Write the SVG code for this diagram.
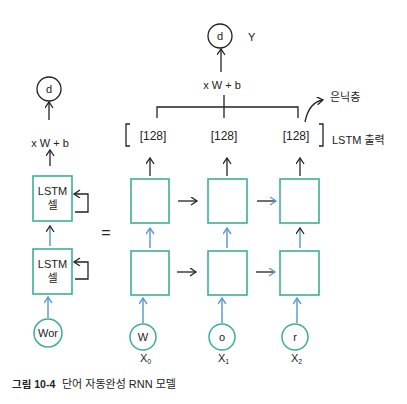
<svg xmlns="http://www.w3.org/2000/svg" width="407" height="404" viewBox="0 0 407 404">
<style>
text{font-family:"Liberation Sans","Noto Sans CJK KR",sans-serif;fill:#222}
.box{fill:#fff;stroke:#3dae96;stroke-width:1.6}
.circ{fill:#fff;stroke:#222;stroke-width:1.3}
.gcirc{fill:#fff;stroke:#3dae96;stroke-width:1.5}
.k{stroke:#222;stroke-width:1.3;fill:none}
.b{stroke:#5b9bd5;stroke-width:1.5;fill:none}
.t12{font-size:12px}
.t11{font-size:11px}
</style>
<defs>
<marker id="ak" markerWidth="10" markerHeight="10" refX="7" refY="4" orient="auto" markerUnits="userSpaceOnUse"><path d="M1,0 L7,4 L1,8" fill="none" stroke="#222" stroke-width="1.3"/></marker>
<marker id="ab" markerWidth="10" markerHeight="10" refX="7" refY="4" orient="auto" markerUnits="userSpaceOnUse"><path d="M1,0 L7,4 L1,8" fill="none" stroke="#5b9bd5" stroke-width="1.4"/></marker>
</defs>

<g id="out-top">
<circle class="circ" cx="220" cy="36" r="12"/>
<text x="220" y="40" text-anchor="middle" class="t11">d</text>
<text x="248" y="41" class="t11">Y</text>
</g>
<text id="xwb-top" x="222" y="89" text-anchor="middle" class="t11">x W + b</text>

<g id="out-left">
<circle class="circ" cx="49" cy="89" r="12"/>
<text x="49" y="93" text-anchor="middle" class="t11">d</text>
</g>
<text id="xwb-left" x="50" y="147" text-anchor="middle" class="t11">x W + b</text>

<g id="lstm-left-1">
<rect class="box" x="33" y="176" width="39" height="45"/>
<text x="52.5" y="195" text-anchor="middle" class="t11">LSTM</text>
<text x="52.5" y="209" text-anchor="middle" class="t11">셀</text>
</g>
<g id="lstm-left-2">
<rect class="box" x="33" y="249" width="39" height="45"/>
<text x="52.5" y="268" text-anchor="middle" class="t11">LSTM</text>
<text x="52.5" y="282" text-anchor="middle" class="t11">셀</text>
</g>
<g id="in-left">
<circle class="gcirc" cx="48" cy="333" r="14"/>
<text x="48" y="337" text-anchor="middle" class="t11">Wor</text>
</g>
<text id="eq" x="106" y="238" text-anchor="middle" font-size="16">=</text>

<g id="cell-1-1"><rect class="box" x="131" y="179" width="38" height="44"/></g>
<g id="cell-1-2"><rect class="box" x="208" y="179" width="39" height="44"/></g>
<g id="cell-1-3"><rect class="box" x="280" y="179" width="39" height="44"/></g>
<g id="cell-2-1"><rect class="box" x="131" y="251" width="38" height="44"/></g>
<g id="cell-2-2"><rect class="box" x="208" y="251" width="39" height="44"/></g>
<g id="cell-2-3"><rect class="box" x="280" y="251" width="39" height="44"/></g>

<g id="in-0"><circle class="gcirc" cx="143" cy="337" r="13"/><text x="143" y="341" text-anchor="middle" class="t11">W</text><text x="140" y="362" class="t11">X<tspan font-size="7" dy="2">0</tspan></text></g>
<g id="in-1"><circle class="gcirc" cx="222" cy="337" r="13"/><text x="222" y="341" text-anchor="middle" class="t11">o</text><text x="218" y="362" class="t11">X<tspan font-size="7" dy="2">1</tspan></text></g>
<g id="in-2"><circle class="gcirc" cx="295" cy="337" r="13"/><text x="295" y="341" text-anchor="middle" class="t11">r</text><text x="291" y="362" class="t11">X<tspan font-size="7" dy="2">2</tspan></text></g>

<g id="labels">
<text x="153" y="140" text-anchor="middle" class="t12">[128]</text>
<text x="224" y="140" text-anchor="middle" class="t12">[128]</text>
<text x="296" y="140" text-anchor="middle" class="t12">[128]</text>
<text x="332" y="144" class="t11">LSTM 출력</text>
<text x="330" y="101" class="t11">은닉층</text>
<text x="12" y="388" font-size="10.5" font-weight="bold">그림 10-4</text>
<text x="62" y="388" font-size="11">단어 자동완성 RNN 모델</text>
</g>

<g id="connectors">
<line class="k" x1="221" y1="72" x2="221" y2="49" marker-end="url(#ak)"/>
<path class="k" d="M157,118 V107 H298 V118 M224,95 V118"/>
<path class="k" d="M130,124 H126 V146 H130"/>
<path class="k" d="M319,124 H323 V146 H319"/>
<path class="k" d="M305,122 Q309,102 323,100" marker-end="url(#ak)"/>
<line class="k" x1="49" y1="120" x2="49" y2="102" marker-end="url(#ak)"/>
<line class="k" x1="50" y1="166" x2="50" y2="150" marker-end="url(#ak)"/>
<line class="b" x1="50" y1="246" x2="50" y2="226" marker-end="url(#ak)"/>
<line class="b" x1="48" y1="318" x2="48" y2="297" marker-end="url(#ab)"/>
<path class="k" d="M75,212 H88 V194 H74" marker-end="url(#ak)"/>
<path class="k" d="M75,279 H88 V262 H74" marker-end="url(#ak)"/>
<line class="k" x1="150" y1="176" x2="150" y2="158" marker-end="url(#ak)"/>
<line class="k" x1="227" y1="176" x2="227" y2="158" marker-end="url(#ak)"/>
<line class="k" x1="300" y1="176" x2="300" y2="158" marker-end="url(#ak)"/>
<line class="b" x1="150" y1="248" x2="150" y2="228" marker-end="url(#ab)"/>
<line class="b" x1="227" y1="248" x2="227" y2="228" marker-end="url(#ab)"/>
<line class="b" x1="300" y1="248" x2="300" y2="228" marker-end="url(#ak)"/>
<line class="b" x1="143" y1="323" x2="143" y2="298" marker-end="url(#ab)"/>
<line class="b" x1="222" y1="323" x2="222" y2="298" marker-end="url(#ab)"/>
<line class="b" x1="297" y1="323" x2="297" y2="298" marker-end="url(#ab)"/>
<line class="k" x1="178" y1="201" x2="197" y2="201" marker-end="url(#ak)"/>
<line class="k" x1="257" y1="201" x2="276" y2="201" marker-end="url(#ab)"/>
<line class="k" x1="177" y1="272" x2="196" y2="272" marker-end="url(#ak)"/>
<line class="k" x1="256" y1="272" x2="275" y2="272" marker-end="url(#ab)"/>
</g>
</svg>
